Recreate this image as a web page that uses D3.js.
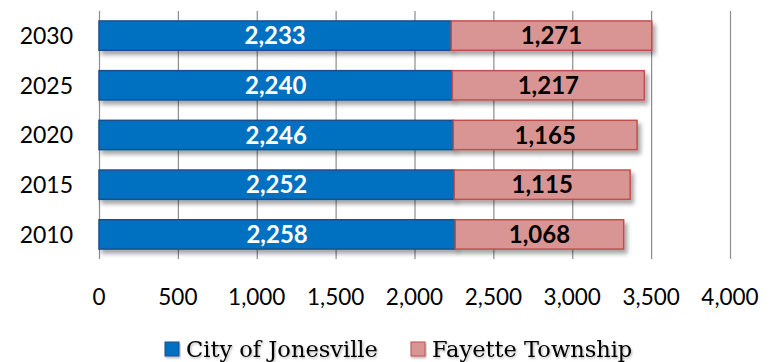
<!DOCTYPE html>
<html>
<head>
<meta charset="utf-8">
<script src="https://cdn.jsdelivr.net/npm/d3@7"></script>
<style>
  html, body { margin: 0; padding: 0; background: #fff; }
  svg { display: block; }
</style>
</head>
<body>
<svg id="chart" width="774" height="362"></svg>
<script>
// Population projections by year
const years = ["2030", "2025", "2020", "2015", "2010"];
const jonesville = [2233, 2240, 2246, 2252, 2258];
const fayette = [1271, 1217, 1165, 1115, 1068];
const seriesNames = ["City of Jonesville", "Fayette Township"];
const xTicks = [0, 500, 1000, 1500, 2000, 2500, 3000, 3500, 4000];

const svg = d3.select("#chart");
const fmt = d3.format(",");

const x = d3.scaleLinear().domain([0, 4000]).range([99, 730]);
const y = d3.scaleBand().domain(years).range([11, 259]).paddingInner(0.41).paddingOuter(0.2);

const defs = svg.append("defs");
const sh = defs.append("filter").attr("id", "shadow")
  .attr("x", "-5%").attr("y", "-20%").attr("width", "115%").attr("height", "160%");
sh.append("feDropShadow").attr("dx", 3).attr("dy", 4).attr("stdDeviation", 2)
  .attr("flood-color", "#000").attr("flood-opacity", 0.35);
const tsh = defs.append("filter").attr("id", "tshadow")
  .attr("x", "-5%").attr("y", "-20%").attr("width", "115%").attr("height", "160%");
tsh.append("feDropShadow").attr("dx", 1).attr("dy", 1.5).attr("stdDeviation", 1)
  .attr("flood-color", "#000").attr("flood-opacity", 0.3);

// Vertical gridlines
svg.append("g")
  .selectAll("line").data(xTicks).join("line")
  .attr("x1", d => x(d) + 0.5).attr("x2", d => x(d) + 0.5)
  .attr("y1", 11).attr("y2", 259)
  .attr("stroke", "#8c8c8c").attr("stroke-width", 1.2);

// Category axis labels
svg.append("g")
  .selectAll("text").data(years).join("text")
  .attr("x", 73).attr("y", d => y(d) + y.bandwidth() / 2)
  .attr("dy", "0.36em").attr("text-anchor", "end")
  .attr("font-family", "Lato, 'Open Sans', sans-serif").attr("font-size", 23)
  .attr("fill", "#000").text(d => d);

// Value axis labels
svg.append("g")
  .selectAll("text").data(xTicks).join("text")
  .attr("x", d => x(d)).attr("y", 297)
  .attr("dy", "0.36em").attr("text-anchor", "middle")
  .attr("font-family", "Lato, 'Open Sans', sans-serif").attr("font-size", 22.5)
  .attr("fill", "#000").text(d => fmt(d));

// Stacked bars
const rows = years.map((yr, i) => ({ yr, a: jonesville[i], b: fayette[i] }));
const bars = svg.append("g");
const g = bars.selectAll("g").data(rows).join("g");

g.append("rect")
  .attr("x", d => x(0)).attr("y", d => y(d.yr))
  .attr("width", d => x(d.a) - x(0)).attr("height", y.bandwidth())
  .attr("fill", "#0070C0").attr("stroke", "#1F4E8C").attr("stroke-width", 1.5)
  .attr("filter", "url(#shadow)");
g.append("rect")
  .attr("x", d => x(d.a)).attr("y", d => y(d.yr))
  .attr("width", d => x(d.a + d.b) - x(d.a)).attr("height", y.bandwidth())
  .attr("fill", "#D99594").attr("stroke", "#C0504D").attr("stroke-width", 1.5)
  .attr("filter", "url(#shadow)");

g.append("text")
  .attr("x", d => (x(0) + x(d.a)) / 2).attr("y", d => y(d.yr) + y.bandwidth() / 2)
  .attr("dy", "0.36em").attr("text-anchor", "middle")
  .attr("font-family", "Lato, 'Open Sans', sans-serif").attr("font-weight", "bold").attr("font-size", 24)
  .attr("fill", "#fff").text(d => fmt(d.a));
g.append("text")
  .attr("x", d => (x(d.a) + x(d.a + d.b)) / 2).attr("y", d => y(d.yr) + y.bandwidth() / 2)
  .attr("dy", "0.36em").attr("text-anchor", "middle")
  .attr("font-family", "Lato, 'Open Sans', sans-serif").attr("font-weight", "bold").attr("font-size", 24)
  .attr("fill", "#000").text(d => fmt(d.b));

// Legend
const legendColors = [["#0070C0", "#1F4E8C"], ["#D99594", "#C0504D"]];
const legendX = [165, 411];
const lg = svg.append("g").selectAll("g").data(seriesNames).join("g")
  .attr("transform", (d, i) => `translate(${legendX[i]},0)`);
lg.append("rect").attr("x", 0).attr("y", 342).attr("width", 14).attr("height", 14)
  .attr("fill", (d, i) => legendColors[i][0]).attr("stroke", (d, i) => legendColors[i][1])
  .attr("filter", "url(#tshadow)");
lg.append("text").attr("x", 21).attr("y", 357)
  .attr("font-family", "'DejaVu Serif', 'Liberation Serif', serif").attr("font-size", 22.5)
  .attr("fill", "#000").attr("filter", "url(#tshadow)").text(d => d);
</script>
</body>
</html>
